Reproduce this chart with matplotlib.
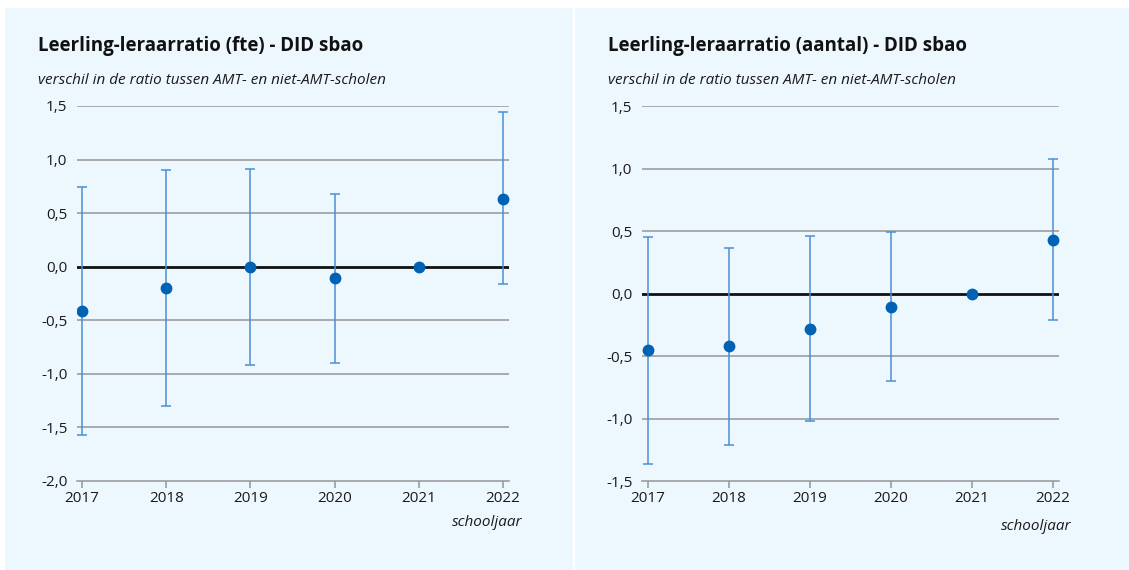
import matplotlib
matplotlib.use("Agg")
import matplotlib.pyplot as plt
from matplotlib.patches import Rectangle
from matplotlib.ticker import FuncFormatter

years = [2017, 2018, 2019, 2020, 2021, 2022]

# Left panel: fte
fte_est = [-0.41, -0.20, 0.00, -0.11, 0.00, 0.635]
fte_low = [-1.57, -1.30, -0.92, -0.90, 0.00, -0.16]
fte_high = [0.74, 0.90, 0.91, 0.68, 0.00, 1.44]
fte_yticks = [-2.0, -1.5, -1.0, -0.5, 0.0, 0.5, 1.0, 1.5]

# Right panel: aantal
ant_est = [-0.45, -0.42, -0.28, -0.106, 0.00, 0.43]
ant_low = [-1.36, -1.21, -1.02, -0.70, 0.00, -0.21]
ant_high = [0.456, 0.37, 0.46, 0.496, 0.00, 1.075]
ant_yticks = [-1.5, -1.0, -0.5, 0.0, 0.5, 1.0, 1.5]

titles = ["Leerling-leraarratio (fte) - DID sbao",
          "Leerling-leraarratio (aantal) - DID sbao"]
subtitle = "verschil in de ratio tussen AMT- en niet-AMT-scholen"
xlabel = "schooljaar"

W, H = 1129, 570
fig = plt.figure(figsize=(W / 100, H / 100), dpi=100)
fig.patch.set_facecolor("white")

BG = "#EDF7FE"
GRID = "#9C9C9C"
BAR = "#4A8FD6"
DOT = "#0062B4"
TXT = "#1A1A1A"
FONT = "Open Sans"


def px_rect(x0, y0, x1, y1):
    return [x0 / W, 1 - y1 / H, (x1 - x0) / W, (y1 - y0) / H]


# panel backgrounds
for (x0, x1) in [(5, 573), (575, 1129)]:
    fig.patches.append(Rectangle((x0 / W, 0), (x1 - x0) / W, 1 - 8 / H,
                                 transform=fig.transFigure, facecolor=BG,
                                 edgecolor="none", zorder=-10))

fmt = FuncFormatter(lambda v, p: f"{v:.1f}".replace(".", ",").replace("-0,0", "0,0"))

panels = [
    dict(est=fte_est, low=fte_low, high=fte_high, yticks=fte_yticks,
         rect=(77, 106, 509, 481), xlim=(2016.94, 2022.071), title=titles[0],
         tx=38, xl=522, xly=523),
    dict(est=ant_est, low=ant_low, high=ant_high, yticks=ant_yticks,
         rect=(642, 106.3, 1058.7, 481.3), xlim=(2016.93, 2022.07), title=titles[1],
         tx=608, xl=1071, xly=526),
]

for p in panels:
    ax = fig.add_axes(px_rect(*p["rect"]))
    ax.set_zorder(1)
    ax.set_facecolor("none")
    ax.set_xlim(*p["xlim"])
    ax.set_ylim(p["yticks"][0], p["yticks"][-1])
    for s in ["top", "right", "left"]:
        ax.spines[s].set_visible(False)
    ax.spines["bottom"].set_color(GRID)
    ax.spines["bottom"].set_linewidth(1.2)
    ax.set_yticks(p["yticks"])
    ax.yaxis.set_major_formatter(fmt)
    ax.set_xticks(years)
    ax.set_xticklabels([str(y) for y in years])
    ax.tick_params(axis="y", length=0, pad=7, labelsize=11, labelcolor=TXT)
    ax.tick_params(axis="x", length=5, width=1.2, color=GRID, pad=2,
                   labelsize=11, labelcolor=TXT)
    for lab in ax.get_xticklabels() + ax.get_yticklabels():
        lab.set_fontfamily(FONT)
    for yt in p["yticks"][1:]:
        if yt == 0:
            continue
        ax.axhline(yt, color=GRID, lw=1.2, zorder=1)
    ax.axhline(0, color="#111111", lw=2.0, zorder=2)

    est = p["est"]
    err_lo = [e - l for e, l in zip(est, p["low"])]
    err_hi = [h - e for e, h in zip(est, p["high"])]
    for i, y in enumerate(years):
        if err_lo[i] == 0 and err_hi[i] == 0:
            continue
        ax.errorbar([y], [est[i]], yerr=[[err_lo[i]], [err_hi[i]]], fmt="none",
                    ecolor=BAR, elinewidth=1.1, capsize=3.6, capthick=1.1, zorder=3)
    ax.plot(years, est, "o", color=DOT, markersize=7.5, zorder=4, linestyle="none")

    fig.text(p["tx"] / W, 1 - 46 / H, p["title"], fontsize=13.5, fontweight="bold",
             family=FONT, color="#111111", va="center", ha="left")
    fig.text(p["tx"] / W, 1 - 80 / H, subtitle, fontsize=11, style="italic",
             family=FONT, color=TXT, va="center", ha="left")
    fig.text(p["xl"] / W, 1 - p["xly"] / H, xlabel, fontsize=11, style="italic",
             family=FONT, color=TXT, va="center", ha="right")

fig.savefig("out.png", dpi=100, facecolor="white")
